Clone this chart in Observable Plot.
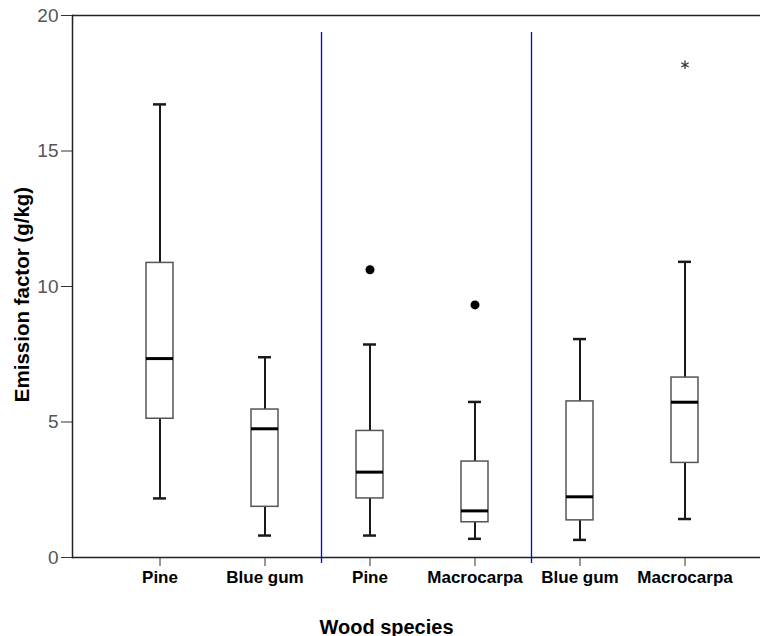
<!DOCTYPE html>
<html>
<head>
<meta charset="utf-8">
<script src="https://cdn.jsdelivr.net/npm/d3@7"></script>
<script src="https://cdn.jsdelivr.net/npm/@observablehq/plot@0.6"></script>
<style>
  html, body { margin: 0; padding: 0; background: #fff; }
  svg { font-family: "Liberation Sans", Arial, sans-serif; }
</style>
</head>
<body>
<div id="chart"></div>
<script>
const labels   = ["Pine", "Blue gum", "Pine", "Macrocarpa", "Blue gum", "Macrocarpa"];
const mins     = [2.18, 0.81, 0.81, 0.69, 0.65, 1.42];
const q1s      = [5.12, 1.87, 2.18, 1.30, 1.37, 3.49];
const medians  = [7.34, 4.75, 3.15, 1.72, 2.24, 5.73];
const q3s      = [10.87, 5.46, 4.67, 3.54, 5.76, 6.64];
const maxs     = [16.72, 7.39, 7.86, 5.74, 8.06, 10.91];
const outlierGroup = [2, 3];
const outlierValue = [10.62, 9.32];
const extremeGroup = [5];
const extremeValue = [18.18];
const separatorsAfter = [1, 3];
const yTicks = [0, 5, 10, 15, 20];

const keys = labels.map((_, i) => String(i));
const boxes = keys.map((k, i) => ({k, min: mins[i], q1: q1s[i], med: medians[i], q3: q3s[i], max: maxs[i]}));
const outliers = outlierGroup.map((g, i) => ({k: String(g), v: outlierValue[i]}));
const extremes = extremeGroup.map((g, i) => ({k: String(g), v: extremeValue[i]}));
const seps = separatorsAfter.map(g => ({k: String(g)}));

const chart = Plot.plot({
  width: 760,
  height: 636,
  marginLeft: 72,
  marginRight: 0,
  marginTop: 15,
  marginBottom: 79,
  style: {fontFamily: "'Liberation Sans', Arial, sans-serif", background: "#fff"},
  x: {type: "band", domain: keys, paddingInner: 0.746, paddingOuter: 0.64, align: 0.546},
  y: {domain: [0, 20]},
  marks: [
    Plot.ruleY([20], {stroke: "#222", strokeWidth: 1.5}),
    Plot.ruleY([0], {stroke: "#222", strokeWidth: 1.5}),
    Plot.frame({anchor: "left", stroke: "#222", strokeWidth: 1.5}),
    Plot.ruleX(seps, {x: "k", dx: 56.5, y1: -0.22, y2: 19.37, stroke: "#0000ff", strokeWidth: 1.3}),
    Plot.ruleX(boxes, {x: "k", y1: "q3", y2: "max", stroke: "#1a1a1a", strokeWidth: 2}),
    Plot.ruleX(boxes, {x: "k", y1: "min", y2: "q1", stroke: "#1a1a1a", strokeWidth: 2}),
    Plot.tickY(boxes, {x: "k", y: "max", inset: 7, stroke: "#1a1a1a", strokeWidth: 2.5}),
    Plot.tickY(boxes, {x: "k", y: "min", inset: 7, stroke: "#1a1a1a", strokeWidth: 2.5}),
    Plot.barY(boxes, {x: "k", y1: "q1", y2: "q3", fill: "#fff", stroke: "#555", strokeWidth: 1.5}),
    Plot.tickY(boxes, {x: "k", y: "med", stroke: "#000", strokeWidth: 3}),
    Plot.dot(outliers, {x: "k", y: "v", r: 4.5, fill: "#000", stroke: "none"}),
    Plot.dot(extremes, {x: "k", y: "v", r: 4, symbol: "asterisk", stroke: "#333", strokeWidth: 1.3}),
    Plot.axisY({ticks: yTicks, tickSize: 11, tickPadding: 3, fontSize: 19, label: null, stroke: "#333", fill: "#555"}),
    Plot.axisX({tickFormat: k => labels[+k], tickSize: 9, tickPadding: 4, fontSize: 17, fontWeight: "bold", label: null, stroke: "#333", fill: "#000"}),
    Plot.text(["Emission factor (g/kg)"], {frameAnchor: "left", textAnchor: "middle", rotate: -90, dx: -50, dy: 8, fontSize: 20.5, fontWeight: "bold", fill: "#000"}),
    Plot.text(["Wood species"], {frameAnchor: "bottom", textAnchor: "middle", lineAnchor: "bottom", dx: -30, dy: 76, fontSize: 20, fontWeight: "bold", fill: "#000"})
  ]
});
document.getElementById("chart").appendChild(chart);
</script>
</body>
</html>
